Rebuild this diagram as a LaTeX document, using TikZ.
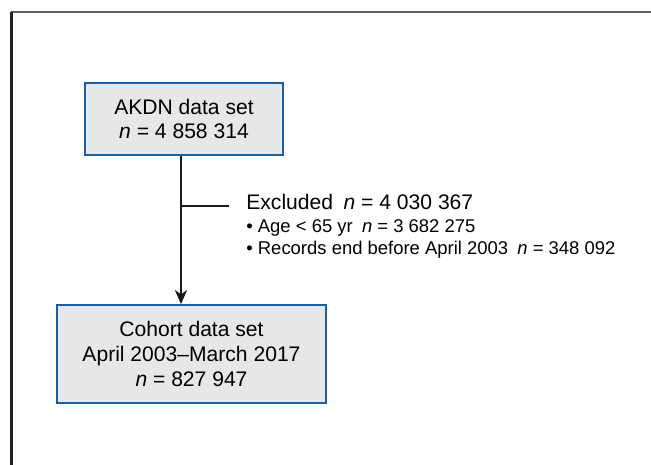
\documentclass[tikz,border=0pt]{standalone}
\usepackage{fontspec}
\setmainfont{Liberation Sans}
\usetikzlibrary{arrows.meta,positioning}
\definecolor{boxblue}{RGB}{27,94,168}
\definecolor{boxgray}{RGB}{230,231,232}

\begin{document}
\begin{tikzpicture}[>={Stealth[length=8pt,width=7pt,inset=2.5pt]},
  blk/.style={draw=boxblue,fill=boxgray,line width=1.1pt,align=center,
    font=\fontsize{12}{14}\selectfont},
  lst/.style={anchor=base west,inner sep=0pt,font=\fontsize{10.5}{12}\selectfont}]
\useasboundingbox (0,0) rectangle (13.02,9.3);
% open frame on the left and top
\coordinate (f) at (0.23,9.06);
\draw[line width=1pt,gray!75!black] (f) -- (13.02,9.06);
\draw[line width=1.4pt,gray!25!black] (0.23,0) -- (f);
\node[blk,minimum width=3.96cm,minimum height=1.44cm] (a) at (3.68,6.92) {AKDN data set\\\textit{n} = 4 858 314};
\node[blk,minimum width=5.38cm,minimum height=1.96cm] (b) at (3.83,2.22) {Cohort data set\\April 2003--March 2017\\\textit{n} = 827 947};
\node[lst,font=\fontsize{12}{14}\selectfont] (x) at (4.92,5.10) {Excluded\enspace\textit{n} = 4 030 367};
\node[lst] (x1) at (4.92,4.64) {\textbullet\ Age < 65 yr\enspace\textit{n} = 3 682 275};
\node[lst] (x2) at (4.92,4.20) {\textbullet\ Records end before April 2003\enspace\textit{n} = 348 092};
\coordinate (s) at (3.62,5.18);
\coordinate (t) at (4.58,5.18);
\draw[->,line width=.8pt,gray!20!black] (a.south -| s) -- (b.north -| s);
\draw[line width=.8pt,gray!20!black] (s) -- (t);
\end{tikzpicture}
\end{document}
